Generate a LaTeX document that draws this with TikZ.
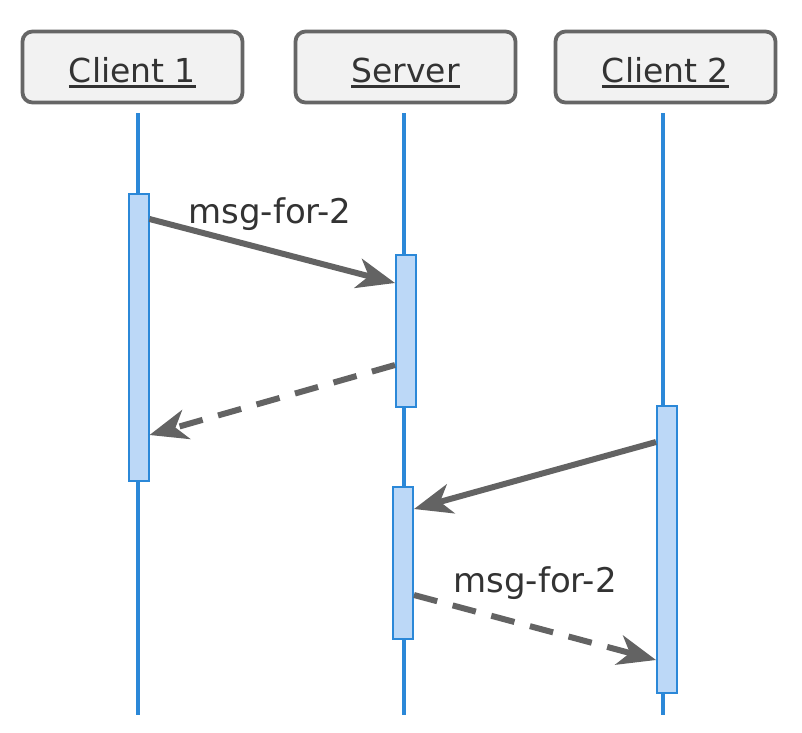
\documentclass[tikz,border=0pt]{standalone}
\usepackage{fontspec}
\setmainfont{DejaVu Sans}
\usetikzlibrary{arrows.meta}
\definecolor{life}{HTML}{2B88D8}
\definecolor{barfill}{HTML}{BCD8F7}
\definecolor{boxfill}{HTML}{F2F2F2}
\definecolor{boxdraw}{HTML}{666666}
\definecolor{msg}{HTML}{636363}
\definecolor{txt}{HTML}{333333}
\newcommand{\ulinetext}[1]{\setbox0\hbox{#1}\rlap{\vrule height -3pt depth 6pt width \wd0}\box0}
\begin{document}
\begin{tikzpicture}[x=1pt,y=-1pt,
 header/.style={draw=boxdraw, line width=3.8pt, fill=boxfill, rounded corners=10pt, minimum width=220pt, minimum height=71pt, inner sep=0pt, font=\fontsize{33}{39}\selectfont, text=txt, text height=32pt, text depth=2pt},
 lifeline/.style={draw=life, line width=4pt},
 actbar/.style={draw=life, line width=2pt, fill=barfill, inner sep=0pt, minimum width=20pt},
 msgline/.style={draw=msg, line width=6pt, -{Stealth[length=38pt,width=30pt,inset=11pt]}},
 reply/.style={msgline, dash pattern=on 24pt off 16pt},
 lbl/.style={font=\fontsize{34}{40}\selectfont, text=txt, anchor=base, inner sep=0pt}]
\useasboundingbox (0,0) rectangle (802,732);
% headers
\node[header] (c1) at (132.5,67) {\ulinetext{Client 1}};
\node[header] (srv) at (405.5,67) {\ulinetext{Server}};
\node[header] (c2) at (665.5,67) {\ulinetext{Client 2}};
% lifeline ends
\coordinate (c1top) at (138,113);
\coordinate (c1bot) at (138,715);
\coordinate (srvtop) at (404,113);
\coordinate (srvbot) at (404,715);
\coordinate (c2top) at (663,113);
\coordinate (c2bot) at (663,715);
\draw[lifeline] (c1top) -- (c1bot);
\draw[lifeline] (srvtop) -- (srvbot);
\draw[lifeline] (c2top) -- (c2bot);
% activation bars
\node[actbar, minimum height=287pt] (c1bar) at (138.5,337.5) {};
\node[actbar, minimum height=152pt] (sbar1) at (406,331) {};
\node[actbar, minimum height=152pt] (sbar2) at (403,563) {};
\node[actbar, minimum height=287pt] (c2bar) at (667,549.5) {};
% messages
\draw[msgline] (c1bar.east |- 0,219) -- (sbar1.west |- 0,283);
\node[lbl] (l1) at (270,223) {msg-for-2};
\draw[reply] (sbar1.west |- 0,365) -- (c1bar.east |- 0,435);
\draw[msgline] (c2bar.west |- 0,442) -- (sbar2.east |- 0,509);
\draw[reply] (sbar2.east |- 0,595) -- (c2bar.west |- 0,660);
\node[lbl] (l2) at (535,592) {msg-for-2};
\end{tikzpicture}
\end{document}
